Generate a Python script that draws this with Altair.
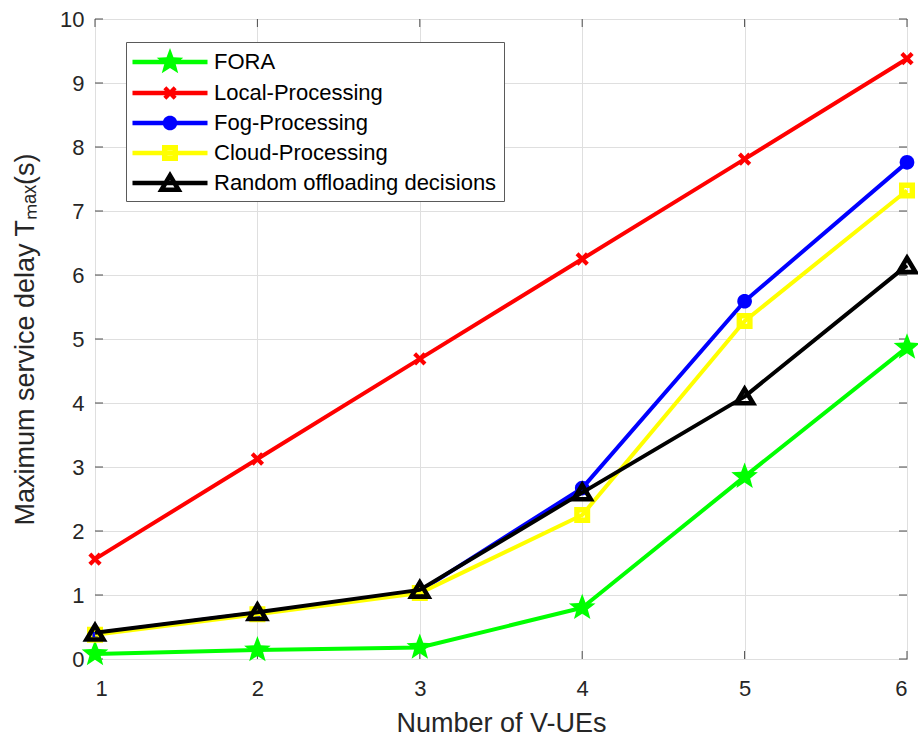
import math
import altair as alt
import pandas as pd

# ---------------- data ----------------
x_values = [1, 2, 3, 4, 5, 6]
series_names = ["FORA", "Local-Processing", "Fog-Processing",
                "Cloud-Processing", "Random offloading decisions"]
fora = [0.08, 0.14, 0.18, 0.80, 2.85, 4.87]
local_proc = [1.56, 3.125, 4.69, 6.25, 7.81, 9.38]
fog_proc = [0.40, 0.72, 1.06, 2.67, 5.59, 7.76]
cloud_proc = [0.38, 0.70, 1.03, 2.25, 5.28, 7.32]
random_dec = [0.41, 0.73, 1.08, 2.60, 4.10, 6.15]
series_colors = ["#00ff00", "#ff0000", "#0000ff", "#ffff00", "#000000"]
x_ticks = [1, 2, 3, 4, 5, 6]
y_ticks = [0, 1, 2, 3, 4, 5, 6, 7, 8, 9, 10]

values = [fora, local_proc, fog_proc, cloud_proc, random_dec]
rows = []
for name, vals in zip(series_names, values):
    for xv, yv in zip(x_values, vals):
        rows.append({"series": name, "x": xv, "y": yv})
df = pd.DataFrame(rows)

# ---------------- marker geometry (unit = 13 px, size 676) ----------------
U = 13.0


def area(pts):
    s = 0.0
    for i in range(len(pts)):
        x1, y1 = pts[i]
        x2, y2 = pts[(i + 1) % len(pts)]
        s += x1 * y2 - x2 * y1
    return s / 2


def oriented(pts, positive=True):
    a = area(pts)
    if (a > 0) != positive:
        pts = list(reversed(pts))
    return pts


def poly(pts, positive=True):
    pts = oriented(pts, positive)
    return "M" + "L".join(f"{x:.3f},{y:.3f}" for x, y in pts) + "Z"


def star_pts(R, r):
    pts = []
    for k in range(10):
        rad = R if k % 2 == 0 else r
        ang = -math.pi / 2 + k * math.pi / 5
        pts.append((rad * math.cos(ang), rad * math.sin(ang)))
    return pts


def x_pts(a, t):
    plus = [(-t, -a), (t, -a), (t, -t), (a, -t), (a, t), (t, t), (t, a),
            (-t, a), (-t, t), (-a, t), (-a, -t), (-t, -t)]
    c = math.cos(math.pi / 4)
    return [(px * c - py * c, px * c + py * c) for px, py in plus]


def circle_pts(r, n=32):
    return [(r * math.cos(2 * math.pi * k / n), r * math.sin(2 * math.pi * k / n)) for k in range(n)]


def square_pts(h):
    return [(-h, -h), (h, -h), (h, h), (-h, h)]


def tri_ring():
    outer = [(0.0, -12.0 / U), (12.5 / U, 9.0 / U), (-12.5 / U, 9.0 / U)]
    (ax, ay), (bx, by), (cx, cy) = outer
    la = math.dist((bx, by), (cx, cy))
    lb = math.dist((ax, ay), (cx, cy))
    lc = math.dist((ax, ay), (bx, by))
    p = la + lb + lc
    ix = (la * ax + lb * bx + lc * cx) / p
    iy = (la * ay + lb * by + lc * cy) / p
    rin = abs(area(outer)) / (p / 2)
    f = (rin - 4.6 / U) / rin
    inner = [(ix + (x - ix) * f, iy + (y - iy) * f) for x, y in outer]
    return poly(outer, True) + poly(inner, False)


marker_paths = [
    poly(star_pts(14.0 / U, 0.42 * 14.0 / U)),
    poly(x_pts(7.3 / U, 2.1 / U)),
    poly(circle_pts(7.3 / U)),
    poly(square_pts(8.0 / U), True) + poly(square_pts(2.6 / U), False),
    tri_ring(),
]
line_seg = poly([(-37.5 / U, -2.2 / U), (37.5 / U, -2.2 / U),
                 (37.5 / U, 2.2 / U), (-37.5 / U, 2.2 / U)])
legend_paths = [line_seg + m for m in marker_paths]

# ---------------- styling ----------------
FONT = "Liberation Sans"
AX = "#262626"
FRAME = "#4d4d4d"
xscale = alt.Scale(domain=[1, 6], nice=False, zero=False)
yscale = alt.Scale(domain=[0, 10], nice=False, zero=False)
xaxis = alt.Axis(values=x_ticks, format="d", title="Number of V-UEs",
                 labelPadding=19, titleY=72, titleBaseline="alphabetic")
yaxis = alt.Axis(values=y_ticks, format="d", title="Maximum service delay Tₘₐₓ(s)",
                 labelPadding=11, titleX=-62, titleY=320, titleAngle=270,
                 titleAlign="center", titleBaseline="alphabetic")


def X(field="x"):
    return alt.X(f"{field}:Q", scale=xscale, axis=xaxis)


def Y(field="y"):
    return alt.Y(f"{field}:Q", scale=yscale, axis=yaxis)


layers = []

# inward ticks on all four sides
left_df = pd.DataFrame({"x": [1] * len(y_ticks), "y": y_ticks})
right_df = pd.DataFrame({"x": [6] * len(y_ticks), "y": y_ticks})
bottom_df = pd.DataFrame({"x": x_ticks, "y": [0] * len(x_ticks)})
top_df = pd.DataFrame({"x": x_ticks, "y": [10] * len(x_ticks)})
layers.append(alt.Chart(left_df).mark_rule(color=FRAME, strokeWidth=1, x2Offset=8)
              .encode(x=X(), x2=alt.X2("x"), y=Y()))
layers.append(alt.Chart(right_df).mark_rule(color=FRAME, strokeWidth=1, x2Offset=-8)
              .encode(x=X(), x2=alt.X2("x"), y=Y()))
layers.append(alt.Chart(bottom_df).mark_rule(color=FRAME, strokeWidth=1, y2Offset=-8)
              .encode(x=X(), y=Y(), y2=alt.Y2("y")))
layers.append(alt.Chart(top_df).mark_rule(color=FRAME, strokeWidth=1, y2Offset=8)
              .encode(x=X(), y=Y(), y2=alt.Y2("y")))

for name, col, mpath in zip(series_names, series_colors, marker_paths):
    base = alt.Chart(df).transform_filter(alt.datum.series == name)
    layers.append(base.mark_line(color=col, strokeWidth=4, strokeJoin="round")
                  .encode(x=X(), y=Y()))
    layers.append(base.mark_point(shape=mpath, size=676, filled=True, color=col,
                                  opacity=1, strokeWidth=0)
                  .encode(x=X(), y=Y()))

leg = alt.Legend(title=None, orient="none", legendX=31, legendY=23, padding=7,
                 rowPadding=6, labelFont=FONT, labelFontSize=22, labelColor="#000000",
                 labelLimit=500, symbolSize=676, symbolOffset=24, labelOffset=31,
                 symbolStrokeWidth=0, symbolOpacity=1,
                 strokeColor="#5a5a5a", fillColor="white")

# legend-only layer: no rows pass the filter, legend entries come from the explicit domains
layers.append(alt.Chart(df).transform_filter(alt.datum.x < 0)
              .mark_point(filled=True, opacity=1, size=676)
              .encode(x=X(), y=Y(),
                      color=alt.Color("series:N", scale=alt.Scale(domain=series_names, range=series_colors), legend=leg),
                      shape=alt.Shape("series:N", scale=alt.Scale(domain=series_names, range=legend_paths), legend=leg)))

chart = (
    alt.layer(*layers)
    .properties(width=812, height=640, autosize=alt.AutoSizeParams(type="none"),
                padding={"left": 95, "top": 19, "right": 11, "bottom": 83},
                background="white")
    .configure_view(stroke=FRAME, strokeWidth=1)
    .configure_axis(labelFont=FONT, labelFontSize=22, labelColor=AX, titleFont=FONT,
                    titleFontSize=27, titleFontWeight="normal", titleColor=AX,
                    grid=True, gridColor="#dfdfdf", gridWidth=1, domain=False,
                    ticks=False, tickSize=0)
)

chart.save("out.html", embed_options={"renderer": "svg", "actions": False})
